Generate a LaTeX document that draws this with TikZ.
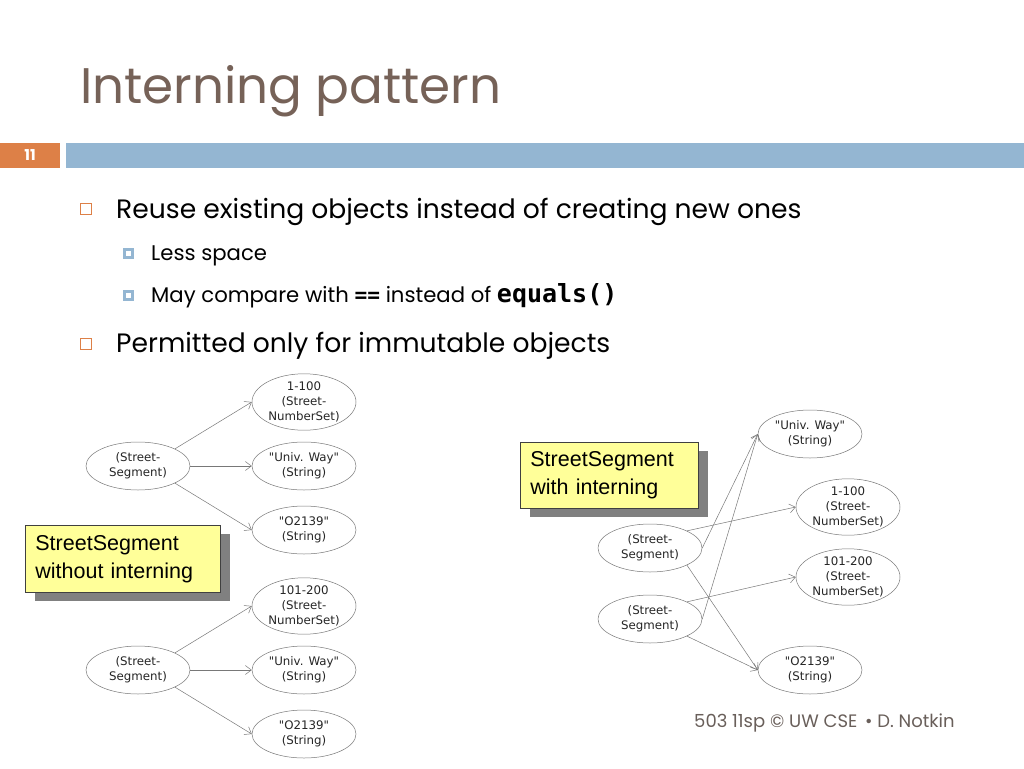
\documentclass[tikz,border=0pt]{standalone}
\usepackage{fontspec}
\setmainfont{Poppins}
\newfontfamily\boxfont{Liberation Sans}
\newfontfamily\nodefont{DejaVu Sans}
\newfontfamily\codefont{DejaVu Sans Mono}
\usetikzlibrary{shapes.geometric,arrows.meta,shadows}
\definecolor{titlebrown}{RGB}{118,98,88}
\definecolor{barblue}{RGB}{148,182,210}
\definecolor{numorange}{RGB}{221,128,71}
\definecolor{yel}{RGB}{255,255,153}
\definecolor{shadowgray}{RGB}{128,128,128}
\definecolor{edgegray}{RGB}{120,120,120}
\definecolor{footgray}{RGB}{105,95,90}
\begin{document}
\begin{tikzpicture}[x=1pt,y=-1pt,
  obj/.style={ellipse,draw=edgegray,line width=0.5pt,fill=white,minimum width=104pt,minimum height=48pt,inner sep=0pt,align=center,font=\nodefont\fontsize{11.8}{14.8}\selectfont,text=black!85},
  ref/.style={draw=edgegray,line width=0.5pt,-{Straight Barb[length=6pt,width=9pt]}},
  note/.style={draw=black!75,line width=0.8pt,fill=yel,anchor=north west,align=left,inner xsep=10pt,inner ysep=0pt,font=\boxfont\fontsize{21.5}{28}\selectfont,drop shadow={shadow xshift=10pt,shadow yshift=-9pt,opacity=1,fill=shadowgray}},
  bul/.style={anchor=base west,font=\fontsize{26.6}{30}\selectfont,text=black,inner sep=0pt},
  subbul/.style={anchor=base west,font=\fontsize{21.2}{26}\selectfont,text=black,inner sep=0pt},
  obox/.style={draw=numorange,line width=1.2pt,minimum size=11pt,inner sep=0pt},
  bbox/.style={fill=barblue,minimum size=11pt,inner sep=0pt}
]
\useasboundingbox (0,0) rectangle (1024,768);
\fill[white] (0,0) rectangle (1024,768);
% title
\node[anchor=base west,inner sep=0pt,text=titlebrown,font=\fontsize{50}{56}\selectfont] (title) at (80,103) {Interning pattern};
% header bars
\fill[numorange] (0,143) rectangle (60,168);
\fill[barblue] (66,143) rectangle (1024,168);
\node[text=white,font=\fontsize{15}{17}\selectfont\bfseries] (num) at (30,155.5) {11};
% bullets
\node[obox] (b1) at (86,209) {};
\node[bul] (t1) at (116,218) {Reuse existing objects instead of creating new ones};
\node[bbox] (s1) at (128,253) {};
\fill[white] (s1.center) ++(-2.5,-2.5) rectangle ++(5,5);
\node[subbul] (t2) at (151,260) {Less space};
\node[bbox] (s2) at (128,295) {};
\fill[white] (s2.center) ++(-2.5,-2.5) rectangle ++(5,5);
\node[subbul] (t3) at (151,302) {May compare with {\codefont\bfseries ==} instead of {\codefont\bfseries\fontsize{25}{26}\selectfont equals()}};
\node[obox] (b2) at (86,344) {};
\node[bul] (t4) at (116,352) {Permitted only for immutable objects};
% left graph, upper
\node[obj] (segA) at (138,466) {(Street-\\Segment)};
\node[obj] (a1) at (304,402) {1-100\\(Street-\\NumberSet)};
\node[obj] (a2) at (304,466) {"Univ. Way"\\(String)};
\node[obj] (a3) at (304,530) {"O2139"\\(String)};
\draw[ref] (segA.north east) -- (a1.west);
\draw[ref] (segA.east) -- (a2.west);
\draw[ref] (segA.south east) -- (a3.west);
% left graph, lower
\node[obj] (segB) at (138,670) {(Street-\\Segment)};
\node[obj] (b1n) at (304,606) {101-200\\(Street-\\NumberSet)};
\node[obj] (b2n) at (304,670) {"Univ. Way"\\(String)};
\node[obj] (b3n) at (304,734) {"O2139"\\(String)};
\draw[ref] (segB.north east) -- (b1n.west);
\draw[ref] (segB.east) -- (b2n.west);
\draw[ref] (segB.south east) -- (b3n.west);
% note left
\node[note,minimum width=195pt,minimum height=67pt,text width=175pt] (noteL) at (25,525) {StreetSegment\\without interning};
% right graph
\node[obj] (uw) at (810,434) {"Univ. Way"\\(String)};
\node[obj] (n100) at (848,507) {1-100\\(Street-\\NumberSet)};
\node[obj] (n200) at (848,577) {101-200\\(Street-\\NumberSet)};
\node[obj] (zip) at (810,670) {"O2139"\\(String)};
\node[obj] (seg1) at (650,548) {(Street-\\Segment)};
\node[obj] (seg2) at (650,619) {(Street-\\Segment)};
\draw[ref] (seg1.north east) -- (n100.west);
\draw[ref] (seg1.east) -- (uw.west);
\draw[ref] (seg1.south east) -- (zip.west);
\draw[ref] (seg2.north east) -- (n200.west);
\draw[ref] (seg2.east) -- (uw.west);
\draw[ref] (seg2.south east) -- (zip.west);
\node[note,minimum width=178pt,minimum height=66pt,text width=158pt] (noteR) at (520,442) {StreetSegment\\with interning};
% footer
\node[anchor=base west,inner sep=0pt,text=footgray,font=\fontsize{18}{20}\selectfont] (foot) at (694,727) {503 11sp © UW CSE \,• D. Notkin};
\end{tikzpicture}
\end{document}
